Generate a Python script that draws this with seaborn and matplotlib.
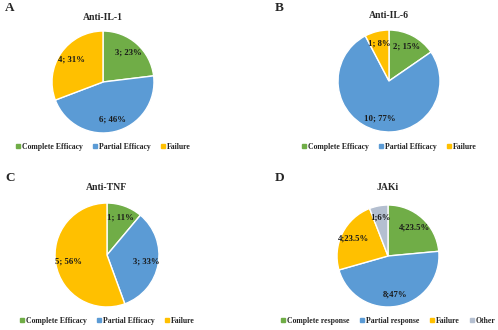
import matplotlib
matplotlib.use("Agg")
import matplotlib.pyplot as plt
from matplotlib.lines import Line2D
import seaborn as sns

# data
efficacy_labels = ["Complete Efficacy", "Partial Efficacy", "Failure"]
jak_labels = ["Complete response", "Partial response", "Failure", "Other"]

il1_counts = [3, 6, 4]
il1_pcts = ["23%", "46%", "31%"]
il6_counts = [2, 10, 1]
il6_pcts = ["15%", "77%", "8%"]
tnf_counts = [1, 3, 5]
tnf_pcts = ["11%", "33%", "56%"]
jak_counts = [4, 8, 4, 1]
jak_pcts = ["23.5%", "47%", "23.5%", "6%"]

sns.set_theme(style="white")
plt.rcParams["font.family"] = ["Liberation Serif", "DejaVu Serif"]
plt.rcParams["font.weight"] = "bold"

colors = sns.color_palette(["#70AD47", "#5B9BD5", "#FFC000", "#B4BFD0"])

W, H = 498, 330
fig = plt.figure(figsize=(W / 100, H / 100), dpi=100)


def px_axes(cx, cy, r):
    return fig.add_axes([(cx - r) / W, (H - cy - r) / H, 2 * r / W, 2 * r / H])


def pie_panel(letter, title, counts, pcts, labels, cx, cy, r, letter_xy, title_y, leg_y, sep=";"):
    ax = px_axes(cx, cy, r)
    wedges, _, autos = ax.pie(counts, colors=colors[:len(counts)], startangle=90,
                              counterclock=False, autopct="%1.0f", pctdistance=0.76,
                              wedgeprops=dict(edgecolor="white", linewidth=1.0))
    for t, c, p in zip(autos, counts, pcts):
        t.set_text(f"{c}{sep}{p}")
        t.set_fontsize(6.3)
        t.set_fontweight("bold")
        t.set_color("#1a1a1a")
    ax.set_xlim(-1.02, 1.02)
    ax.set_ylim(-1.02, 1.02)
    ax.set_aspect("equal")
    fig.text(letter_xy[0] / W, 1 - letter_xy[1] / H, letter, fontsize=9.5,
             fontweight="bold", ha="left", va="center")
    fig.text(cx / W, 1 - title_y / H, title, fontsize=7, fontweight="bold",
             ha="center", va="center")
    handles = [Line2D([], [], marker="s", linestyle="", markersize=2.5,
                      color=colors[i]) for i in range(len(labels))]
    fig.legend(handles, labels, loc="center", bbox_to_anchor=(cx / W, 1 - leg_y / H),
               ncol=len(labels), frameon=False, fontsize=5.6, handletextpad=0.1,
               columnspacing=1.2, handlelength=0.8, borderpad=0)


pie_panel("A", "Anti-IL-1", il1_counts, il1_pcts, efficacy_labels,
          103, 82, 52, (5, 8), 17, 147, sep="; ")
pie_panel("B", "Anti-IL-6", il6_counts, il6_pcts, efficacy_labels,
          389, 81, 52, (275, 8), 16, 147, sep="; ")
pie_panel("C", "Anti-TNF", tnf_counts, tnf_pcts, efficacy_labels,
          107, 255, 53, (5, 178), 188, 321, sep="; ")
pie_panel("D", "JAKi", jak_counts, jak_pcts, jak_labels,
          388, 256, 52, (275, 178), 188, 321, sep=";")

fig.savefig("out.png", dpi=100)
